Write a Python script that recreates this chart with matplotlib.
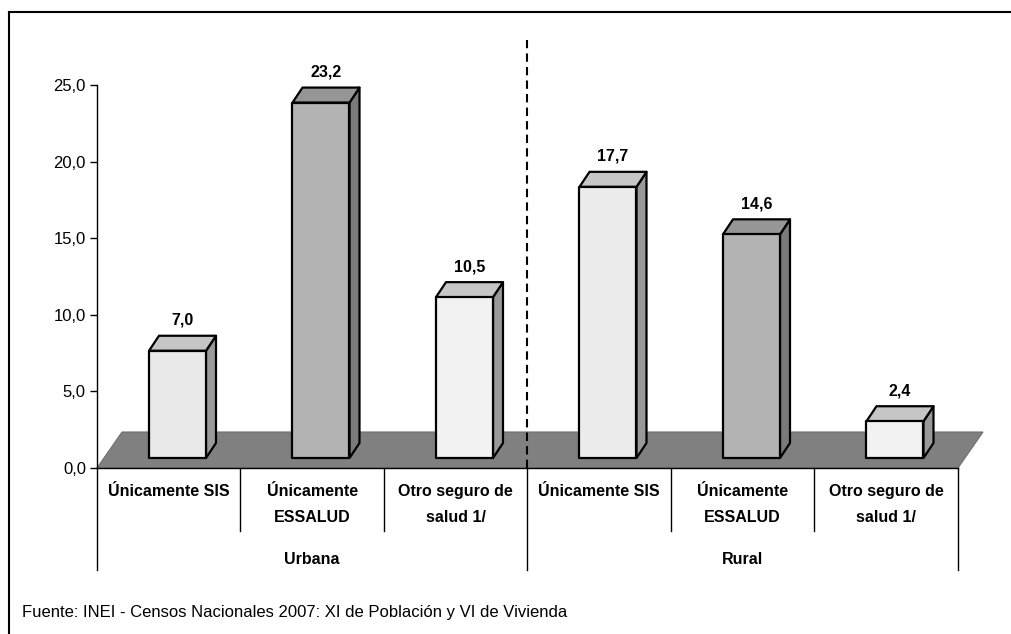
import numpy as np
import matplotlib.pyplot as plt
from matplotlib.patches import Polygon
from matplotlib.lines import Line2D

plt.rcParams['font.family'] = ['Liberation Sans', 'DejaVu Sans']

# Datos
grupos = ["Urbana", "Rural"]
categorias = ["Únicamente SIS", "Únicamente\nESSALUD", "Otro seguro de\nsalud 1/"]
urbana = [7.0, 23.2, 10.5]
rural = [17.7, 14.6, 2.4]
yticks = [0, 5, 10, 15, 20, 25]
fuente = "Fuente: INEI - Censos Nacionales 2007: XI de Población y VI de Vivienda"

valores = urbana + rural
etiquetas = categorias * 2
frente = ["#e8e8e8", "#b3b3b3", "#f2f2f2", "#ececec", "#b3b3b3", "#f2f2f2"]
tapa = ["#c6c6c6", "#969696", "#c6c6c6", "#c6c6c6", "#969696", "#c6c6c6"]
lado = ["#999999", "#7a7a7a", "#999999", "#999999", "#7a7a7a", "#999999"]

W, H = 1012, 634
fig = plt.figure(figsize=(W / 100, H / 100), dpi=100)
# eje: x 0..6 en px 97..958, y 0..25 en px 468..85
ax = fig.add_axes([97 / W, (H - 468) / H, 861 / W, 383 / H])
ax.set_xlim(0, 6)
ax.set_ylim(0, 25)
ux = 6 / 861.0   # unidades por pixel
uy = 25 / 383.0

# piso
fx, fy = 25 * ux, 36 * uy
ax.add_patch(Polygon([(0, 0), (6, 0), (6 + fx, fy), (fx, fy)], closed=True,
                     facecolor="#808080", edgecolor="#6e6e6e", lw=0.8,
                     clip_on=False, zorder=1))

# barras 3D
dx, dy = 10 * ux, 15 * uy
base = 10 * uy
off = 52 * ux
bw = 57 * ux
for i, v in enumerate(valores):
    x0 = i + off
    x1 = x0 + bw
    y0 = base
    y1 = base + v
    kw = dict(closed=True, edgecolor="black", lw=1.6, joinstyle="round",
              clip_on=False, zorder=3)
    ax.add_patch(Polygon([(x1, y0), (x1 + dx, y0 + dy), (x1 + dx, y1 + dy), (x1, y1)],
                         facecolor=lado[i], **kw))
    ax.add_patch(Polygon([(x0, y1), (x1, y1), (x1 + dx, y1 + dy), (x0 + dx, y1 + dy)],
                         facecolor=tapa[i], **kw))
    ax.add_patch(Polygon([(x0, y0), (x1, y0), (x1, y1), (x0, y1)],
                         facecolor=frente[i], **kw))
    ax.text(x0 + (bw + dx) / 2, y1 + dy + 8 * uy, f"{v:.1f}".replace(".", ","),
            ha="center", va="bottom", fontsize=11.5, fontweight="bold", zorder=4)

# ejes
for s in ["top", "right", "bottom"]:
    ax.spines[s].set_visible(False)
ax.spines["left"].set_linewidth(1.0)
ax.set_yticks(yticks)
ax.set_yticklabels([f"{t:.1f}".replace(".", ",") for t in yticks], fontsize=12)
ax.tick_params(axis="y", length=5, width=1, pad=3)
ax.set_xticks([])
ax.patch.set_alpha(0)

# linea base y divisiones de categorias
ax.plot([0, 6], [0, 0], color="black", lw=1.0, clip_on=False, zorder=5)
for k in range(7):
    fondo = -102 * uy if k % 3 == 0 else -63 * uy
    ax.plot([k, k], [0, fondo], color="black", lw=1.0, clip_on=False, zorder=5)

for i, lab in enumerate(etiquetas):
    ax.text(i + 0.5, -16 * uy, lab, ha="center", va="top", fontsize=11.5,
            fontweight="bold", linespacing=1.9)
for g, nombre in enumerate(grupos):
    ax.text(g * 3 + 1.5, -91 * uy, nombre, ha="center", va="center",
            fontsize=11.5, fontweight="bold")

# linea punteada entre grupos
ax.plot([3, 3], [0, 25 + 45 * uy], color="black", lw=1.5, ls=(0, (4, 2.5)),
        clip_on=False, zorder=6)

# fuente
fig.text(22 / W, 1 - 613 / H, fuente, ha="left", va="center", fontsize=12)

# marco
fig.add_artist(Line2D([9 / W, 1], [1 - 12 / H, 1 - 12 / H], color="black", lw=1.5))
fig.add_artist(Line2D([9 / W, 9 / W], [0, 1 - 12 / H], color="black", lw=1.5))

fig.savefig("out.png", dpi=100)
